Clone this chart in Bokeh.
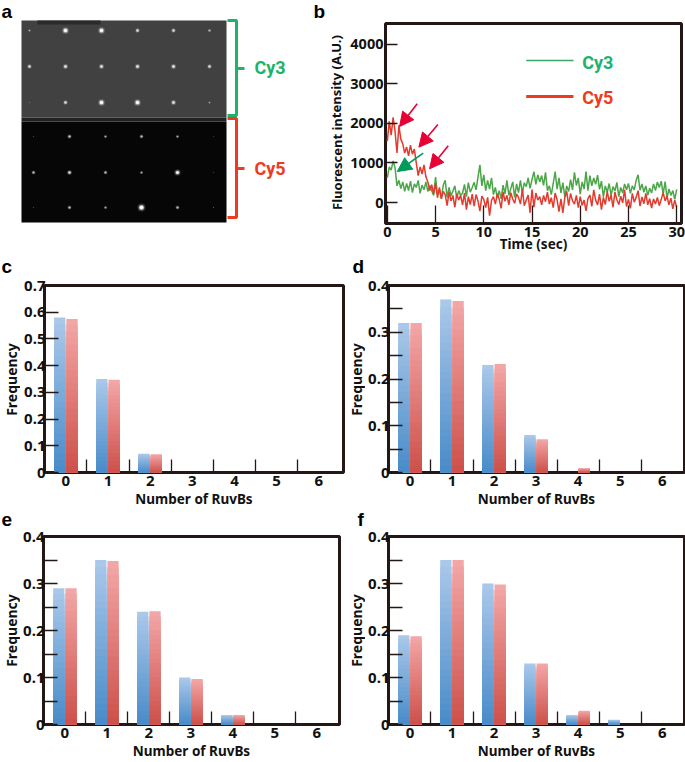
import numpy as np
from bokeh.core.properties import value
from bokeh.embed import file_html
from bokeh.layouts import column, row
from bokeh.models import Arrow, FixedTicker, NormalHead, Range1d
from bokeh.plotting import figure
from bokeh.resources import INLINE

# ---------- data ----------
categories = [0, 1, 2, 3, 4, 5, 6]
c_blue = [0.58, 0.35, 0.07, 0, 0, 0, 0]
c_red = [0.575, 0.347, 0.068, 0, 0, 0, 0]
d_blue = [0.32, 0.37, 0.23, 0.08, 0, 0, 0]
d_red = [0.32, 0.367, 0.232, 0.071, 0.009, 0, 0]
e_blue = [0.29, 0.35, 0.24, 0.10, 0.02, 0, 0]
e_red = [0.29, 0.348, 0.241, 0.097, 0.02, 0, 0]
f_blue = [0.19, 0.35, 0.30, 0.13, 0.02, 0.01, 0]
f_red = [0.188, 0.35, 0.298, 0.13, 0.029, 0, 0]

cy3_trace = [
    620, 900, 820, 1050, 880, 420, 560, 350, 520, 280,
    480, 300, 540, 250, 470, 380, 560, 230, 440, 320,
    520, 280, 430, 300, 180, 640, 200, 330, 110, 440,
    560, 130, 380, 170, 290, 420, 110, 300, 180, 240,
    460, 150, 500, 260, 380, 510, 320, 640, 950, 420,
    700, 300, 560, 340, 620, 200, 380, 120, 300, 90,
    440, 220, 560, 180, 350, 520, 130, 470, 250, 560,
    240, 500, 400, 620, 360, 580, 780, 460, 700, 520,
    680, 430, 760, 300, 420, 200, 480, 780, 340, 620,
    240, 500, 140, 420, 280, 580, 320, 760, 430, 620,
    210, 520, 340, 780, 300, 680, 420, 620, 460, 690,
    330, 540, 140, 420, 260, 480, 180, 400, 290, 510,
    150, 380, 240, 470, 320, 480, 230, 420, 320, 560,
    700, 310, 470, 260, 420, 180, 360, 240, 470, 300,
    520, 380, 540, 210, 530, 120, 340, 180, 300, 80, 330,
]
cy5_trace = [
    1550, 2050, 1700, 2150, 1800, 1250, 1950, 1600, 1480, 1250,
    1400, 1180, 1450, 1220, 1350, 1000, 680, 900, 720, 950,
    650, 520, 300, 450, 220, 480, 120, 380, 90, 280,
    200, -80, 260, 40, 180, -120, 220, 60, 180, -60,
    240, -180, 150, -50, 210, -90, 200, 40, -220, 160,
    80, -130, 130, -330, 50, 150, -40, 220, 80, -150,
    270, 30, 180, -60, 250, 90, -20, 220, 130, -40,
    340, -80, 60, 190, -260, 330, -120, 240, 60, 150,
    -60, 180, 20, 260, -40, 120, -130, 240, 70, -230,
    90, -260, 120, 280, -80, 230, 40, -40, 180, -130,
    150, -70, 60, -210, 100, 190, -100, 320, 60, -60,
    210, -180, 130, -50, 280, 30, 190, -120, 260, 70,
    -50, 160, -10, 320, -100, 80, -150, 230, 10, 130,
    300, -90, 140, -30, 230, -60, 100, -140, 90, -40,
    130, -80, 80, 250, 40, 160, -60, 110, -160, 60, -120,
]
time_sec = [i * 0.2 for i in range(len(cy3_trace))]

# spots of the micrograph: column, row, brightness
spot_x = [29, 65, 101, 137, 173, 209,
          29, 65, 101, 137, 173, 209,
          29, 65, 101, 137, 173, 209,
          33, 69, 105, 141, 177, 213,
          33, 69, 105, 141, 177, 213,
          33, 69, 105, 141, 177, 213]
spot_y = [30, 30, 30, 30, 30, 30,
          66, 66, 66, 66, 66, 66,
          102, 102, 102, 102, 102, 102,
          136, 136, 136, 136, 136, 136,
          172, 172, 172, 172, 172, 172,
          207, 207, 207, 207, 207, 207]
spot_b = [0.3, 1.0, 1.0, 0.6, 0.6, 0.4,
          0.6, 0.7, 0.7, 0.7, 0.7, 0.6,
          0.1, 0.6, 1.0, 1.0, 0.7, 0.25,
          0.1, 0.55, 0.4, 0.5, 0.4, 0.08,
          0.5, 0.65, 0.5, 0.4, 0.9, 0.1,
          0.1, 0.5, 0.4, 1.2, 0.5, 0.12]

DARK = "#231815"
GREEN = "#1db36a"
RED = "#ee3a1e"
FONT = "Noto Sans"
CY_FONT = "Roboto"
BLUE_TOP, BLUE_BOTTOM = (170, 200, 234), (70, 138, 200)
RED_TOP, RED_BOTTOM = (243, 166, 166), (205, 78, 72)


def canvas_fig(w, h):
    """A figure whose frame is the whole canvas, in pixels, for texts outside the axes."""
    p = figure(width=w, height=h, output_backend="svg", toolbar_location=None,
               x_range=Range1d(0, w), y_range=Range1d(h, 0),
               x_axis_location=None, y_axis_location=None, min_border=0)
    p.min_border_left = p.min_border_right = p.min_border_top = p.min_border_bottom = 0
    p.xgrid.visible = False
    p.ygrid.visible = False
    p.outline_line_color = None
    return p


def letter(p, text, cx, cy):
    p.text(x=[cx], y=[cy], text=[text], text_font=value("Liberation Sans"), text_font_style="bold",
           text_font_size="19px", text_color="#000000", text_baseline="middle")


def side_label(p, text, cx, cy, size):
    p.text(x=[cx], y=[cy], text=[text], text_font=value(FONT), text_font_style="bold",
           text_font_size=size, text_color="#111111", text_baseline="middle",
           text_align="center", angle=[np.pi / 2])


def gradient_bars(p, xs, vals, top_rgb, bottom_rgb, width):
    """Each bar is painted as nested slices, from full height down, lightest on top."""
    steps = 24
    for k in range(steps, 0, -1):
        f = k / steps
        col = tuple(int(bottom_rgb[i] + (top_rgb[i] - bottom_rgb[i]) * f) for i in range(3))
        p.vbar(x=xs, top=[v * f for v in vals], bottom=0, width=width,
               color="#%02x%02x%02x" % col, line_color=None)


def style_axes(p, size="15px"):
    for ax in (p.xaxis[0], p.yaxis[0]):
        ax.axis_line_color = None
        ax.major_label_text_font = FONT
        ax.major_label_text_font_style = "bold"
        ax.major_label_text_font_size = size
        ax.major_label_text_color = "#111111"
        ax.axis_label_text_font = FONT
        ax.axis_label_text_font_style = "bold"
        ax.axis_label_text_color = "#111111"
        ax.major_tick_out = 0
        ax.minor_tick_out = 0
        ax.major_tick_line_color = DARK
        ax.minor_tick_line_color = DARK
        ax.major_tick_line_width = 1.3
        ax.minor_tick_line_width = 1.3
    p.xgrid.visible = False
    p.ygrid.visible = False
    p.outline_line_color = DARK
    p.outline_line_width = 3
    p.outline_line_alpha = 1


def bar_panel(blue, red, ymax, major, minor, strip, w, h, left, right, top, bottom, x0, x1, tag, lx, ly):
    s = canvas_fig(strip, h)
    letter(s, tag, lx, ly)
    side_label(s, "Frequency", 11, top + (h - top - bottom) / 2, "14px")
    p = figure(width=w - strip, height=h, output_backend="svg", toolbar_location=None,
               x_range=Range1d(x0, x1), y_range=Range1d(0, ymax),
               min_border_left=left - strip, min_border_right=right,
               min_border_top=top, min_border_bottom=bottom)
    gradient_bars(p, [c - 0.146 for c in categories], blue, BLUE_TOP, BLUE_BOTTOM, 0.268)
    gradient_bars(p, [c + 0.146 for c in categories], red, RED_TOP, RED_BOTTOM, 0.268)
    style_axes(p)
    xa, ya = p.xaxis[0], p.yaxis[0]
    xa.ticker = FixedTicker(ticks=categories, minor_ticks=[c + 0.5 for c in categories[:-1]])
    xa.major_tick_in = 0
    xa.minor_tick_in = 13
    xa.major_label_standoff = 3
    xa.axis_label = "Number of RuvBs"
    xa.axis_label_text_font_size = "13.5px"
    xa.axis_label_standoff = 1
    ya.ticker = FixedTicker(ticks=major, minor_ticks=minor)
    ya.major_tick_in = 14
    ya.minor_tick_in = 14
    ya.major_label_standoff = -1
    return s, p


# ---------- panel a ----------
pa = canvas_fig(344, 255)
pa.quad(left=[21], right=[226], top=[20], bottom=[117], color="#414141", line_color=None)
pa.quad(left=[21], right=[226], top=[117], bottom=[121], color="#222222", line_color=None)
pa.quad(left=[21], right=[226], top=[121], bottom=[222], color="#060606", line_color=None)
pa.quad(left=[37], right=[100], top=[20], bottom=[24], color="#2a2a2a", line_color=None)
b = np.array(spot_b)
for size_0, size_k, alpha_0, alpha_k in [(4, 3, 0.05, 0.12), (3, 2, 0.12, 0.25), (1.5, 2, 0.3, 0.65)]:
    pa.scatter(spot_x, spot_y, size=size_0 * b ** 0.5 + size_k * b,
               color="#ffffff", alpha=alpha_0 + alpha_k * np.minimum(b, 1), line_color=None)
pa.line([227, 236, 236, 227], [20, 20, 115, 115], line_color=GREEN, line_width=3)
pa.line([236, 244], [68, 68], line_color=GREEN, line_width=3)
pa.line([227, 236, 236, 227], [118, 118, 217, 217], line_color=RED, line_width=3)
pa.line([236, 244], [168, 168], line_color=RED, line_width=3)
pa.text(x=[254], y=[67], text=["Cy3"], text_font=value(CY_FONT), text_font_style="bold",
        text_font_size="18px", text_color=GREEN, text_baseline="middle")
pa.text(x=[254], y=[168], text=["Cy5"], text_font=value(CY_FONT), text_font_style="bold",
        text_font_size="18px", text_color=RED, text_baseline="middle")
letter(pa, "a", 1, 11)
letter(pa, "b", 313, 11)
side_label(pa, "Fluorescent intensity (A.U.)", 336, 122, "13px")

# ---------- panel b ----------
pb = figure(width=341, height=255, output_backend="svg", toolbar_location=None,
            x_range=Range1d(-0.19, 30.5), y_range=Range1d(-530, 4520),
            min_border_left=41, min_border_right=4,
            min_border_top=23, min_border_bottom=32)
pb.line(time_sec, cy3_trace, line_color="#4ba648", line_width=1.5)
pb.line(time_sec, cy5_trace, line_color="#e23a2c", line_width=1.5)
style_axes(pb, "14.5px")
xa, ya = pb.xaxis[0], pb.yaxis[0]
xa.ticker = FixedTicker(ticks=[0, 5, 10, 15, 20, 25, 30])
xa.major_tick_in = 18
xa.major_label_standoff = 3
xa.axis_label = "Time (sec)"
xa.axis_label_text_font_size = "13.5px"
xa.axis_label_standoff = -5
ya.ticker = FixedTicker(ticks=[0, 1000, 2000, 3000, 4000])
ya.major_tick_in = 12
ya.major_label_standoff = 2
pb.line([14.4, 19.3], [3585, 3585], line_color="#3aa86a", line_width=1.5)
pb.line([14.4, 19.3], [2676, 2676], line_color=RED, line_width=3)
pb.text(x=[20.2], y=[3535], text=["Cy3"], text_font=value(CY_FONT), text_font_style="bold",
        text_font_size="18px", text_color=GREEN, text_baseline="middle")
pb.text(x=[20.2], y=[2651], text=["Cy5"], text_font=value(CY_FONT), text_font_style="bold",
        text_font_size="18px", text_color=RED, text_baseline="middle")
for (x_s, y_s, x_e, y_e, col) in [(3.10, 2492, 1.27, 1919, "#e60033"),
                                  (5.24, 1970, 3.27, 1397, "#e60033"),
                                  (6.32, 1431, 4.38, 851, "#e60033"),
                                  (3.72, 1245, 1.03, 783, "#009a5a")]:
    pb.add_layout(Arrow(x_start=x_s, y_start=y_s, x_end=x_e, y_end=y_e,
                        line_color=col, line_width=1.6,
                        end=NormalHead(size=14, fill_color=col, line_color=col)))

# ---------- panels c-f ----------
t4 = [0, 0.1, 0.2, 0.3, 0.4]
m4 = [0.05, 0.15, 0.25, 0.35]
sc, pc = bar_panel(c_blue, c_red, 0.7, [0, 0.1, 0.2, 0.3, 0.4, 0.5, 0.6, 0.7], [], 20,
                   345, 255, 44, 2, 30, 37, -0.507, 6.586, "c", 1, 11)
sd, pd_ = bar_panel(d_blue, d_red, 0.4, t4, m4, 20,
                    340, 255, 43, 1, 30, 37, -0.51, 6.53, "d", 7, 11)
se, pe = bar_panel(e_blue, e_red, 0.4, t4, m4, 20,
                   345, 252, 43, 6, 26, 38, -0.51, 6.54, "e", 1, 9)
sf, pf = bar_panel(f_blue, f_red, 0.4, t4, m4, 20,
                   340, 252, 43, 1, 26, 38, -0.51, 6.53, "f", 12, 9)

layout = column(row(column(pa), column(pb)),
                row(column(sc), column(pc), column(sd), column(pd_)),
                row(column(se), column(pe), column(sf), column(pf)),
                styles={"position": "absolute", "left": "0px", "top": "0px"})

open("out.html", "w").write(file_html(layout, INLINE))
